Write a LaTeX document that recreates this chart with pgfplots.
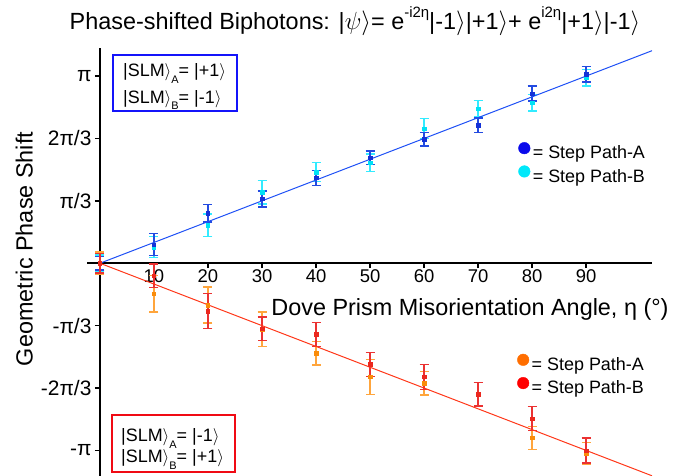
\documentclass[border=0pt]{standalone}
\usepackage{fontspec}
\setmainfont{Liberation Sans}
\usepackage{pgfplots}
\usepackage{pgfplotstable}
\pgfplotsset{compat=1.18}

\definecolor{bA}{RGB}{10,10,235}
\definecolor{bB}{RGB}{0,232,250}
\definecolor{oA}{RGB}{255,110,0}
\definecolor{rB}{RGB}{255,0,0}
\definecolor{bAm}{RGB}{20,50,215}
\definecolor{bBm}{RGB}{0,225,245}
\definecolor{oAm}{RGB}{250,140,10}
\definecolor{rBm}{RGB}{235,40,30}
\definecolor{bAe}{RGB}{35,75,225}
\definecolor{bBe}{RGB}{50,235,255}
\definecolor{oAe}{RGB}{255,165,60}
\definecolor{rBe}{RGB}{235,50,50}
\definecolor{bline}{RGB}{30,80,245}
\definecolor{rline}{RGB}{255,55,25}
\definecolor{boxblue}{RGB}{20,20,250}
\definecolor{boxred}{RGB}{240,10,20}

% x = eta (deg), y = phase in units of pi/3, e = error
\pgfplotstableread{
x y e
0 0 0.11
10 0.30 0.18
20 0.80 0.14
30 1.03 0.13
40 1.37 0.12
50 1.69 0.11
60 1.99 0.11
70 2.21 0.12
80 2.72 0.12
90 3.03 0.125
}\blueA
\pgfplotstableread{
x y e
0 0 0.13
10 0.26 0.17
20 0.61 0.18
30 1.14 0.19
40 1.46 0.155
50 1.61 0.14
60 2.16 0.16
70 2.48 0.13
80 2.57 0.13
90 2.97 0.13
}\cyanB
\pgfplotstableread{
x y e
0 0 0.18
10 -0.49 0.29
20 -0.67 0.29
30 -1.06 0.28
40 -1.44 0.19
50 -1.82 0.28
60 -1.92 0.19
70 -2.10 0.19
80 -2.80 0.18
90 -3.05 0.18
}\orangeA
\pgfplotstableread{
x y e
0 0 0.155
10 -0.20 0.19
20 -0.77 0.28
30 -1.05 0.19
40 -1.14 0.19
50 -1.62 0.19
60 -1.82 0.20
70 -2.10 0.19
80 -2.49 0.19
90 -3.00 0.20
}\redB

\newcommand{\supr}[1]{\raisebox{12bp}{\fontsize{15}{15}\selectfont #1}}
\newcommand{\subr}[1]{\raisebox{-6.5bp}{\fontsize{11}{11}\selectfont #1}}

\pgfplotsset{
  common/.style={
    at={(87bp,0bp)}, anchor=south west,
    scale only axis, width=565bp, height=428bp,
    xmin=-2.4, xmax=102.2, ymin=-3.41, ymax=3.45,
    legend cell align=left,
    legend image code/.code={\fill[##1] (0bp,6.3bp) circle (5.8bp);},
    legend style={draw=none, fill=none, inner sep=0pt, outer sep=0pt,
      font=\fontsize{18}{18}\selectfont, row sep=2.5bp,
      nodes={inner sep=0pt, outer sep=0pt, text height=13bp, text depth=4bp},
      /tikz/every odd column/.append style={column sep=2.5bp}},
  },
  ebar/.style={error bars/.cd, y dir=both, y explicit,
     error bar style={line width=1.3bp, color=#1},
     error mark options={rotate=90, mark size=4.5bp, line width=1.3bp, color=#1}},
}

\begin{document}
\begin{tikzpicture}
\useasboundingbox (0,0) rectangle (680bp,476bp);
\begin{axis}[common,
  axis lines=middle,
  axis line style={-, line width=1.6bp, black},
  every inner x axis line/.append style={-},
  every inner y axis line/.append style={-},
  xtick={10,20,30,40,50,60,70,80,90},
  xticklabels={10,20,30,40,50,60,70,80,90},
  ytick={-3,-2,-1,1,2,3},
  yticklabels={-π,-2π/3,-π/3,π/3,2π/3,π},
  tick align=outside,
  major tick length=5bp,
  tick style={line width=1.3bp, black},
  xticklabel style={font=\fontsize{18.5}{18.5}\selectfont, inner sep=1bp},
  yticklabel style={font=\fontsize{21}{21}\selectfont},
  legend style={at={(0.7634,0.7800)}, anchor=north west},
]
\addplot[only marks, mark=square*, mark size=1.7bp, color=bBm, forget plot, ebar=bBe] table[x=x,y=y,y error=e]{\cyanB};
\addplot[only marks, mark=square*, mark size=1.7bp, color=bAm, forget plot, ebar=bAe] table[x=x,y=y,y error=e]{\blueA};
\addplot[bline, line width=1bp, forget plot] coordinates {(0,0) (102.2,3.4067)};
\addlegendimage{bA}
\addlegendentry{= Step Path-A}
\addlegendimage{bB}
\addlegendentry{= Step Path-B}
\end{axis}
\begin{axis}[common, hide axis,
  legend style={at={(0.7614,0.2855)}, anchor=north west},
]
\addplot[only marks, mark=square*, mark size=1.7bp, color=oAm, forget plot, ebar=oAe] table[x=x,y=y,y error=e]{\orangeA};
\addplot[only marks, mark=square*, mark size=1.7bp, color=rBm, forget plot, ebar=rBe] table[x=x,y=y,y error=e]{\redB};
\addplot[rline, line width=1bp, forget plot] coordinates {(0,0) (102.2,-3.4067)};
\addlegendimage{oA}
\addlegendentry{= Step Path-A}
\addlegendimage{rB}
\addlegendentry{= Step Path-B}
\end{axis}

% title and axis labels
\node[anchor=base, inner sep=0pt, font=\fontsize{23.5}{23.5}\selectfont] at (355bp,446.7bp)
  {Phase-shifted Biphotons: |$\psi\rangle$= e\supr{-i2η}|-1$\rangle$|+1$\rangle$+ e\supr{i2η}|+1$\rangle$|-1$\rangle$};
\node[anchor=base, inner sep=0pt, font=\fontsize{23.5}{23.5}\selectfont] at (470bp,160bp)
  {Dove Prism Misorientation Angle, η (°)};
\node[anchor=base, rotate=90, inner sep=0pt, font=\fontsize{23.5}{23.5}\selectfont] at (32.5bp,227bp)
  {Geometric Phase Shift};

% SLM boxes
\draw[boxblue, line width=2bp] (113bp,365bp) rectangle (237bp,421bp);
\node[anchor=base west, inner sep=0pt, font=\fontsize{18}{18}\selectfont] at (123bp,399.3bp)
  {|SLM$\rangle$\subr{A}= |+1$\rangle$};
\node[anchor=base west, inner sep=0pt, font=\fontsize{18}{18}\selectfont] at (123bp,372.7bp)
  {|SLM$\rangle$\subr{B}= |-1$\rangle$};
\draw[boxred, line width=2bp] (112bp,4bp) rectangle (235bp,61bp);
\node[anchor=base west, inner sep=0pt, font=\fontsize{18}{18}\selectfont] at (121bp,34.3bp)
  {|SLM$\rangle$\subr{A}= |-1$\rangle$};
\node[anchor=base west, inner sep=0pt, font=\fontsize{18}{18}\selectfont] at (121bp,13.3bp)
  {|SLM$\rangle$\subr{B}= |+1$\rangle$};
\end{tikzpicture}
\end{document}
